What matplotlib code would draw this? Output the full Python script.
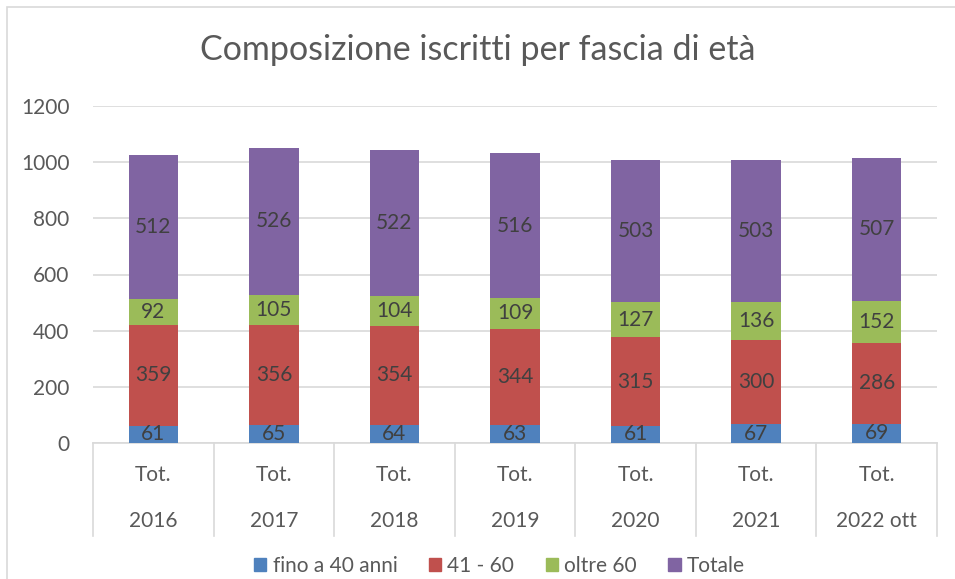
import matplotlib.pyplot as plt
from matplotlib.patches import Patch, Rectangle
from matplotlib.lines import Line2D
import numpy as np

plt.rcParams['font.family'] = ['Lato', 'DejaVu Sans']

anni = ["2016", "2017", "2018", "2019", "2020", "2021", "2022 ott"]
fino_40 = [61, 65, 64, 63, 61, 67, 69]
da_41_60 = [359, 356, 354, 344, 315, 300, 286]
oltre_60 = [92, 105, 104, 109, 127, 136, 152]
totale = [512, 526, 522, 516, 503, 503, 507]

serie = [
    ("fino a 40 anni", fino_40, "#4F81BD"),
    ("41 - 60", da_41_60, "#C0504D"),
    ("oltre 60", oltre_60, "#9BBB59"),
    ("Totale", totale, "#8064A2"),
]

fig = plt.figure(figsize=(9.55, 5.79), dpi=100)
# bordo del grafico
fig.patches.append(Rectangle((7 / 955, -0.1), 1.1, 1 - 7 / 579 + 0.1, transform=fig.transFigure,
                             fill=False, edgecolor="#D9D9D9", lw=1.2))

ax = fig.add_axes([93 / 955, 1 - 443 / 579, (937 - 93) / 955, (443 - 106) / 579])
x = np.arange(len(anni))
base = np.zeros(len(anni))
for nome, valori, colore in serie:
    ax.bar(x, valori, bottom=base, width=0.41, color=colore, label=nome, zorder=3)
    for xi, b, v in zip(x, base, valori):
        ax.text(xi, b + v / 2, str(v), ha="center", va="center", fontsize=15, color="#404040", zorder=4)
    base = base + np.array(valori)

ax.set_xlim(-0.5, len(anni) - 0.5)
ax.set_ylim(0, 1200)
ax.set_yticks(range(0, 1201, 200))
ax.yaxis.grid(True, color="#D9D9D9", lw=1.2, zorder=0)
ax.tick_params(axis="y", length=0, labelsize=15, labelcolor="#595959", pad=17)
ax.set_xticks([])
for s in ["top", "right", "left"]:
    ax.spines[s].set_visible(False)
ax.spines["bottom"].set_color("#D9D9D9")
ax.spines["bottom"].set_linewidth(1.2)

# asse a due livelli
tr = ax.get_xaxis_transform()
for xi, a in zip(x, anni):
    ax.text(xi, -0.095, "Tot.", transform=tr, ha="center", va="center", fontsize=15, color="#595959")
    ax.text(xi, -0.23, a, transform=tr, ha="center", va="center", fontsize=15, color="#595959")
for b in np.arange(-0.5, len(anni), 1.0):
    ax.add_line(Line2D([b, b], [0, -0.275], transform=tr, color="#D9D9D9", lw=1.2, clip_on=False))

fig.text(0.5, 1 - 50 / 579, "Composizione iscritti per fascia di età", ha="center", va="center",
         fontsize=24.5, color="#595959")

handles = [Patch(color=c, label=n) for n, v, c in serie]
fig.legend(handles=handles, loc="center", bbox_to_anchor=(0.523, 1 - 566 / 579), ncol=4, frameon=False,
           fontsize=15, handlelength=0.6, handleheight=0.6, handletextpad=0.3, columnspacing=1.5,
           labelcolor="#595959")

fig.savefig("out.png", dpi=100)
